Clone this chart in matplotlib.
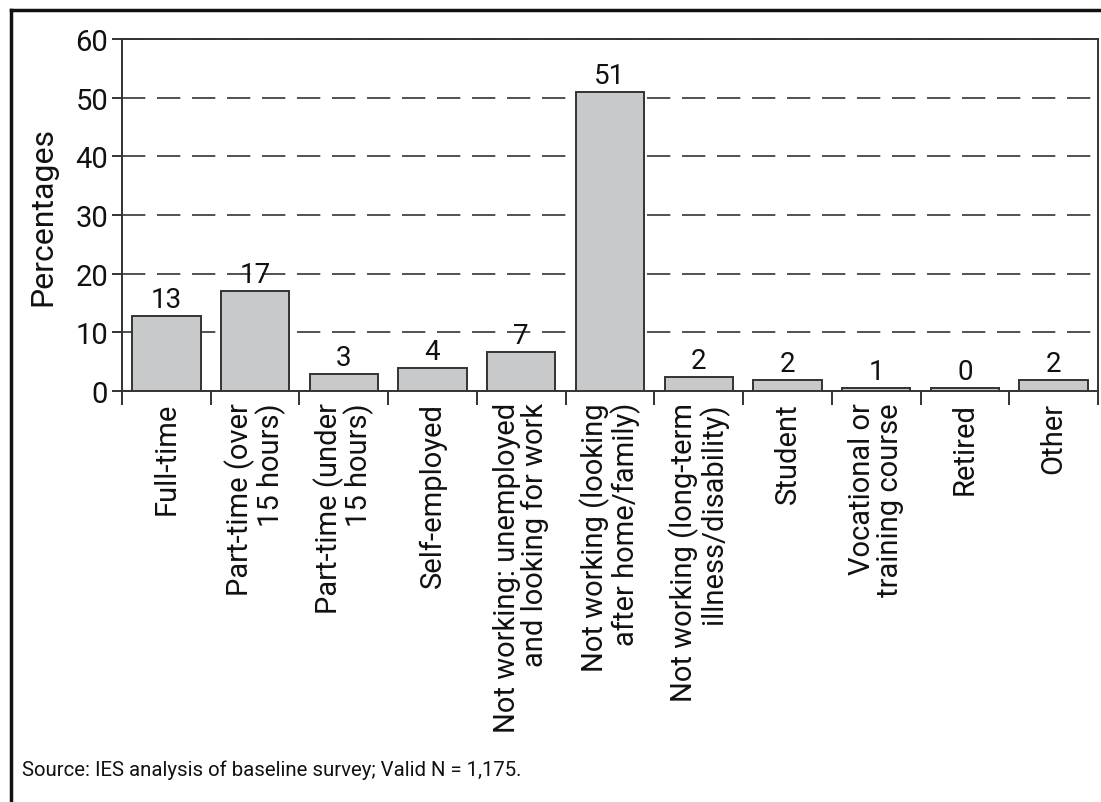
import numpy as np
import matplotlib.pyplot as plt
from matplotlib.lines import Line2D

plt.rcParams['font.family'] = ['Roboto', 'DejaVu Sans']

# Data
categories = [
    'Full-time',
    'Part-time (over\n15 hours)',
    'Part-time (under\n15 hours)',
    'Self-employed',
    'Not working: unemployed\nand looking for work',
    'Not working (looking\nafter home/family)',
    'Not working (long-term\nillness/disability)',
    'Student',
    'Vocational or\ntraining course',
    'Retired',
    'Other',
]
values = [12.8, 17.1, 2.9, 3.9, 6.7, 50.9, 2.4, 1.9, 0.5, 0.5, 1.9]
value_labels = ['13', '17', '3', '4', '7', '51', '2', '2', '1', '0', '2']

W, H = 1101, 803
fig = plt.figure(figsize=(W / 100, H / 100), dpi=100)
ax = fig.add_axes([122 / W, 1 - 392 / H, (1098 - 122) / W, (392 - 40) / H])

dark = '#333333'
x = np.arange(len(categories))
ax.bar(x, values, width=0.77, color='#c8c9cb', edgecolor=dark, linewidth=1.4, zorder=3)

for xi, v, lab in zip(x, values, value_labels):
    ax.text(xi, v + 0.5, lab, ha='center', va='bottom', fontsize=20, color='#111111', zorder=4)

ax.set_xlim(-0.5, len(categories) - 0.5)
ax.set_ylim(0, 60)
ax.set_yticks(range(0, 61, 10))
ax.tick_params(axis='y', labelsize=21, length=7, width=1.4, color=dark, pad=3, labelcolor='#111111')

# category labels
ax.set_xticks(x)
ax.set_xticklabels(categories, rotation=90, ha='center', va='top',
                   multialignment='right', fontsize=21, color='#111111', linespacing=1.0)
ax.tick_params(axis='x', which='major', length=0, pad=8)
ax.set_xticks(np.arange(-0.5, len(categories), 1.0), minor=True)
ax.tick_params(axis='x', which='minor', length=10, width=1.4, color=dark)

ax.grid(axis='y', color=dark, linewidth=1.2, linestyle=(0, (14, 7)), zorder=1)
for s in ax.spines.values():
    s.set_color(dark)
    s.set_linewidth(1.4)

ax.set_ylabel('Percentages', fontsize=23, color='#111111', labelpad=13)

fig.text(22 / W, 1 - 770 / H, 'Source: IES analysis of baseline survey; Valid N = 1,175.',
         fontsize=14.7, va='center', ha='left', color='#111111')

# frame round the figure (left and top visible)
fig.add_artist(Line2D([11 / W, 11 / W], [0, 1 - 11 / H], transform=fig.transFigure,
                      color='#111111', linewidth=2.5))
fig.add_artist(Line2D([11 / W, 1], [1 - 11 / H, 1 - 11 / H], transform=fig.transFigure,
                      color='#111111', linewidth=2.5))

fig.savefig('out.png', dpi=100, facecolor='white')
